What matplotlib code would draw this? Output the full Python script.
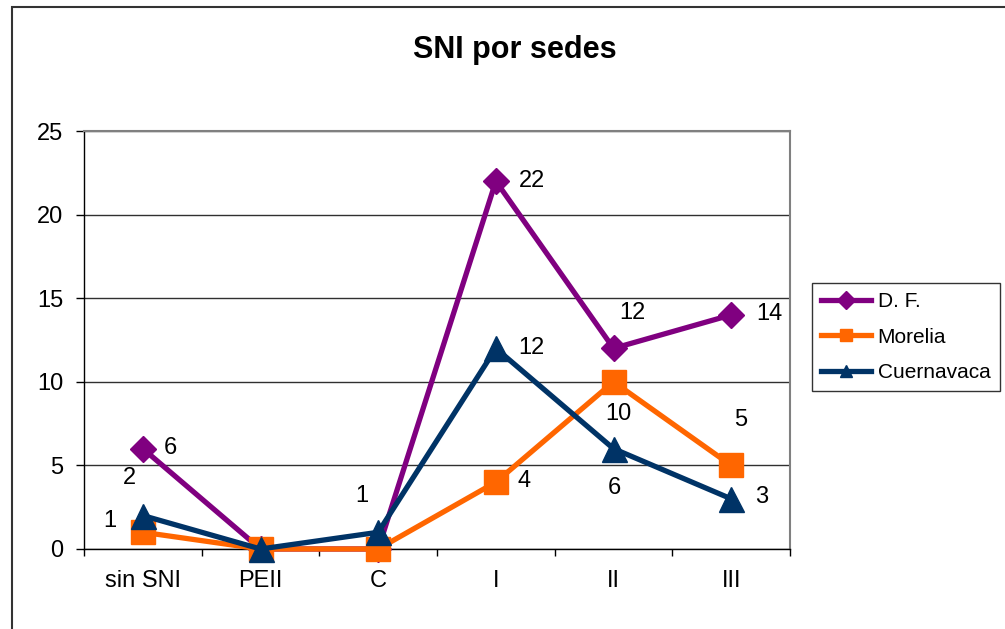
import matplotlib
matplotlib.use("Agg")
import matplotlib.pyplot as plt
from matplotlib.lines import Line2D
from matplotlib.patches import Rectangle

plt.rcParams['font.family'] = ['Liberation Sans', 'DejaVu Sans']

# data
categories = ['sin SNI', 'PEII', 'C', 'I', 'II', 'III']
df_vals = [6, 0, 0, 22, 12, 14]
morelia_vals = [1, 0, 0, 4, 10, 5]
cuerna_vals = [2, 0, 1, 12, 6, 3]

# label offsets in pixels (dx, dy) per point, style only
df_off = [(28, 1), None, None, (36, 0), (19, 35), (38, 1)]
mor_off = [(-33, 11), None, None, (28, 1), (5, -32), (9, 45)]
cue_off = [(-13, 38), None, (-16, 36), (36, 0), (1, -39), (30, 2)]

series = [
    ('D. F.', df_vals, '#800080', 'D', 13.5, 9, df_off),
    ('Morelia', morelia_vals, '#FF6600', 's', 17, 9, mor_off),
    ('Cuernavaca', cuerna_vals, '#003366', '^', 18, 9, cue_off),
]

fig = plt.figure(figsize=(10.05, 6.29), dpi=100)
ax = fig.add_axes([0.0836, 0.1272, 0.7025, 0.6645])

x = list(range(len(categories)))
handles = []
for name, vals, color, marker, ms, lms, offs in series:
    ax.plot(x, vals, color=color, lw=3.8, marker=marker, markersize=ms,
            markeredgecolor=color, zorder=3, clip_on=False)
    for xi, v, off in zip(x, vals, offs):
        if off is None:
            continue
        ax.annotate(str(v), (xi, v), xytext=off, textcoords='offset pixels',
                    ha='center', va='center', fontsize=17, color='black')
    handles.append(Line2D([], [], color=color, lw=3.8, marker=marker,
                          markersize=lms, markeredgecolor=color, label=name))

ax.set_xlim(-0.5, len(categories) - 0.5)
ax.set_ylim(0, 25)
ax.set_yticks([0, 5, 10, 15, 20, 25])
ax.set_xticks(x)
ax.set_xticklabels(categories)
ax.set_xticks([i - 0.5 for i in range(len(categories) + 1)], minor=True)
ax.tick_params(axis='x', which='major', length=0, pad=15, labelsize=17)
ax.tick_params(axis='x', which='minor', length=5, width=1, color='black')
ax.tick_params(axis='y', length=6, width=1, labelsize=17, pad=9)
ax.grid(axis='y', color='#303030', lw=1)
ax.set_axisbelow(True)
for side in ['left', 'bottom']:
    ax.spines[side].set_color('black')
    ax.spines[side].set_linewidth(1)
for side in ['right', 'top']:
    ax.spines[side].set_color('#808080')
    ax.spines[side].set_linewidth(1.5)

fig.text(0.512, 1 - 58 / 629, 'SNI por sedes', ha='center', va='baseline',
         fontsize=22, fontweight='bold')

leg = fig.legend(handles=handles, loc='upper left',
                 bbox_to_anchor=(812 / 1005, 1 - 283 / 629), borderaxespad=0,
                 frameon=True, fancybox=False, edgecolor='black', fontsize=15,
                 handlelength=2.4, handletextpad=0.3, labelspacing=0.78,
                 borderpad=0.45)
leg.get_frame().set_linewidth(1)

fig.patches.append(Rectangle((12 / 1005, -0.1), 1.1, 1 - 7 / 629 + 0.1,
                             transform=fig.transFigure, fill=False,
                             edgecolor='#333333', lw=1.5))

fig.savefig('out.png', dpi=100)
